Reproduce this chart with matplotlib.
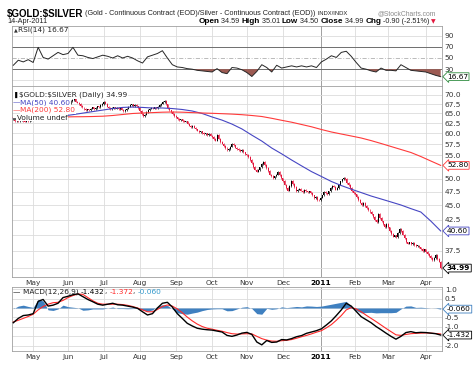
import numpy as np
import pandas as pd
import matplotlib
matplotlib.use('Agg')
import matplotlib.pyplot as plt
import matplotlib.transforms as mtransforms
from matplotlib.ticker import FixedLocator, NullLocator, FixedFormatter

# ---------------- data ----------------
close_apr10 = [63.4, 63.1, 63.3, 63.0, 63.2, 63.5, 63.1, 62.9, 63.2, 63.0, 63.3, 63.6]
close_may10 = [63.4, 66.0, 66.4, 65.8, 65.3, 64.8, 64.2, 64.0, 64.4, 64.9, 65.2, 65.6, 66.5,
               67.4, 67.7, 67.0, 67.4, 66.6, 66.1, 66.2, 66.6]
close_jun10 = [67.0, 67.8, 68.3, 68.6, 68.9, 68.2, 67.9, 67.5, 67.0, 66.6, 66.2, 65.9, 66.1,
               65.8, 66.3, 66.6, 66.2, 66.5, 66.9, 66.7, 67.2, 67.5]
close_jul10 = [68.2, 67.6, 66.8, 66.4, 66.1, 66.5, 66.6, 66.3, 66.5, 66.2, 66.4, 66.0, 65.7,
               65.9, 66.3, 66.8, 67.2, 67.4, 67.0, 67.3, 66.9, 66.5]
close_aug10 = [65.6, 64.9, 64.4, 64.7, 65.4, 65.9, 66.3, 66.5, 66.3, 66.6, 66.4, 66.8, 67.2,
               67.6, 68.0, 68.3, 67.4, 66.5, 65.8, 65.4, 64.9, 64.4]
close_sep10 = [64.0, 63.6, 63.3, 63.5, 63.1, 62.9, 63.0, 62.4, 61.9, 61.6, 61.8, 61.4, 61.0,
               60.7, 60.3, 60.5, 60.1, 59.8, 60.0, 59.6, 59.9, 59.5]
close_oct10 = [59.2, 58.7, 58.3, 59.6, 58.8, 58.0, 57.6, 57.1, 56.6, 56.1, 56.4, 56.9, 57.6,
               57.2, 56.7, 56.4, 56.2, 55.9, 56.1, 55.6, 55.2]
close_nov10 = [55.0, 54.6, 53.9, 53.3, 52.5, 51.9, 51.5, 51.8, 52.4, 53.1, 53.6, 52.9, 52.3,
               51.6, 50.9, 50.6, 50.2, 50.5, 50.9, 51.4, 50.8, 50.1]
close_dec10 = [49.6, 48.9, 48.2, 47.7, 48.6, 49.6, 49.0, 48.4, 47.6, 47.9, 48.1, 47.7, 47.5,
               47.8, 47.6, 47.4, 47.6, 47.3, 46.8, 46.3, 46.5, 46.0, 45.9]
close_jan11 = [46.4, 46.8, 47.5, 47.2, 47.0, 47.6, 48.2, 48.7, 48.5, 47.9, 48.2, 48.9, 49.5,
               49.9, 50.2, 50.0, 49.2, 48.8, 48.2, 47.6, 47.3]
close_feb11 = [47.0, 46.5, 46.0, 45.5, 45.0, 45.4, 44.9, 44.5, 44.2, 43.8, 43.4, 42.9, 42.4,
               42.0, 43.5, 42.8, 42.2, 41.7, 41.2, 41.8]
close_mar11 = [41.2, 40.6, 40.1, 39.7, 39.9, 39.6, 40.3, 41.0, 40.6, 40.0, 39.4, 38.8, 38.6,
               38.8, 38.5, 38.7, 38.4, 38.2, 38.3, 38.0, 37.8, 37.5, 37.7]
close_apr11 = [37.3, 37.0, 36.7, 36.4, 36.1, 36.4, 36.9, 36.3, 35.89, 34.99]

# moving averages (evenly spaced samples across the year)
ma50 = [63.8, 63.8, 63.8, 64.0, 64.1, 64.35, 64.7, 65.1, 65.5, 65.9, 66.3, 66.6, 66.7, 66.6,
        66.45, 66.45, 66.3, 66.05, 65.65, 65.0, 64.1, 63.3, 62.3, 61.1, 59.6, 58.2, 56.6,
        55.3, 53.95, 52.7, 51.5, 50.5, 49.5, 48.7, 48.0, 47.35, 46.7, 46.15, 45.6, 45.05,
        44.4, 43.8, 42.25, 40.6]
ma200 = [63.97, 63.97, 64.02, 64.04, 64.09, 64.09, 64.15, 64.17, 64.22, 64.3, 64.48, 64.74,
         65.0, 65.13, 65.23, 65.34, 65.39, 65.34, 65.23, 65.13, 65.05, 64.95, 64.84, 64.69,
         64.48, 64.22, 63.76, 63.25, 62.77, 62.2, 61.63, 60.96, 60.36, 59.87, 59.4, 58.92,
         58.31, 57.64, 56.95, 56.27, 55.6, 54.71, 53.74, 52.8]

rsi = [37, 46, 43, 47, 42, 69, 51, 48, 54, 60,
       56, 58, 69, 55, 54, 51, 49, 52, 55, 53,
       50, 54, 50, 53, 50, 45, 41, 52, 55, 58,
       63, 50, 38, 34, 33, 31, 30, 28, 27, 26,
       25, 31, 24, 22, 33, 32, 29, 24, 17, 26,
       38, 33, 25, 37, 32, 34, 36, 34, 36, 34,
       36, 33, 43, 48, 54, 51, 60, 62, 53, 42,
       32, 30, 27, 25, 32, 28, 28, 27, 38, 33,
       28, 27, 26, 25, 22, 19, 16.67]

macd = [-0.78, -0.55, -0.40, -0.37, -0.30, 0.35, 0.45, 0.10, 0.15, 0.25,
        0.55, 0.62, 0.70, 0.75, 0.60, 0.45, 0.33, 0.20, 0.15, 0.20,
        0.25, 0.17, 0.15, 0.10, 0.05, -0.02, -0.20, -0.37, -0.30, 0.00,
        0.25, 0.30, 0.05, -0.30, -0.55, -0.81, -0.95, -1.07, -1.12, -1.15,
        -1.17, -1.22, -1.27, -1.45, -1.50, -1.43, -1.33, -1.29, -1.40, -1.80,
        -1.95, -1.72, -1.82, -1.80, -1.67, -1.69, -1.62, -1.52, -1.46, -1.34,
        -1.27, -1.20, -1.10, -0.90, -0.68, -0.40, -0.10, 0.25, 0.10, -0.18,
        -0.46, -0.62, -0.78, -0.98, -1.15, -1.33, -1.50, -1.65, -1.50, -1.30,
        -1.25, -1.31, -1.29, -1.30, -1.33, -1.36, -1.432]
signal = [-0.74, -0.65, -0.55, -0.45, -0.33, -0.10, 0.08, 0.20, 0.28, 0.30,
          0.40, 0.55, 0.66, 0.74, 0.72, 0.55, 0.38, 0.25, 0.20, 0.20,
          0.20, 0.20, 0.18, 0.14, 0.08, 0.00, -0.10, -0.20, -0.20, -0.08,
          0.08, 0.16, 0.10, -0.05, -0.25, -0.48, -0.68, -0.85, -0.98, -1.07,
          -1.12, -1.18, -1.23, -1.30, -1.36, -1.38, -1.37, -1.36, -1.37, -1.50,
          -1.62, -1.70, -1.75, -1.76, -1.73, -1.71, -1.67, -1.60, -1.52, -1.45,
          -1.37, -1.28, -1.20, -1.05, -0.88, -0.65, -0.40, -0.10, 0.02, -0.05,
          -0.20, -0.38, -0.55, -0.72, -0.90, -1.08, -1.25, -1.42, -1.45, -1.40,
          -1.36, -1.34, -1.33, -1.32, -1.33, -1.35, -1.372]

month_labels = ['May', 'Jun', 'Jul', 'Aug', 'Sep', 'Oct', 'Nov', 'Dec', '2011', 'Feb', 'Mar', 'Apr']
price_ticks = [35.0, 37.5, 40.0, 42.5, 45.0, 47.5, 50.0, 52.5, 55.0, 57.5, 60.0, 62.5, 65.0, 67.5, 70.0]
price_hidden = [35.0, 40.0, 52.5]          # covered by the value boxes
rsi_ticks = [10, 30, 50, 70, 90]
rsi_hidden = [10]
macd_ticks = [-2.0, -1.5, -1.0, -0.5, 0.0, 0.5, 1.0]
macd_hidden = [-1.5, 0.0]

# ---------------- derived ----------------
closes = np.array(close_apr10 + close_may10 + close_jun10 + close_jul10 + close_aug10 +
                  close_sep10 + close_oct10 + close_nov10 + close_dec10 + close_jan11 +
                  close_feb11 + close_mar11 + close_apr11)
N = len(closes)
dates = pd.bdate_range(end='2011-04-14', periods=N)
days = np.arange(N)
month_pos = [i for i in range(1, N) if dates[i].month != dates[i - 1].month]

rsi = np.array(rsi, dtype=float)
macd = np.array(macd)
signal = np.array(signal)
hist = macd - signal

W, H = 474, 370
fig = plt.figure(figsize=(W / 100, H / 100), dpi=100)
fig.patch.set_facecolor('white')
plt.rcParams['font.family'] = ['DejaVu Sans']

L, R = 12, 442


def rect(top, bot):
    return [L / W, 1 - bot / H, (R - L) / W, (bot - top) / H]


ax_r = fig.add_axes(rect(25.5, 86))
ax_p = fig.add_axes(rect(86, 277))
ax_m = fig.add_axes(rect(287, 351))

grid_c = '#dcdcdc'
for ax in (ax_r, ax_p, ax_m):
    ax.set_xlim(-0.8, N - 0.2)
    for s in ax.spines.values():
        s.set_color('#a0a0a0')
        s.set_linewidth(0.6)
    for mp in month_pos:
        ax.axvline(mp, color='#909090' if dates[mp].month == 1 else grid_c, lw=0.6, zorder=0)
    ax.yaxis.tick_right()
    ax.tick_params(axis='both', length=0, labelsize=5.3, colors='#333333', pad=2)


def tick_texts(ticks, hidden, fmt):
    return ['' if t in hidden else fmt.format(t) for t in ticks]


# ---------------- RSI ----------------
rx = np.linspace(0, N - 1, len(rsi))
ax_r.set_ylim(0, 108)
for v in (90, 10):
    ax_r.axhline(v, color=grid_c, lw=0.6, zorder=0)
for v in (70, 30):
    ax_r.axhline(v, color='#6e6e6e', lw=0.7, zorder=1)
ax_r.axhline(50, color='#b0b0b0', lw=0.6, ls=(0, (5, 2, 1, 2)), zorder=1)
ax_r.fill_between(rx, rsi, 30, where=rsi < 30, interpolate=True, color='#9c5a52', lw=0, zorder=2)
ax_r.plot(rx, rsi, color='#262626', lw=0.7, zorder=3)
ax_r.set_yticks(rsi_ticks)
ax_r.set_yticklabels(tick_texts(rsi_ticks, rsi_hidden, '{:d}'))
ax_r.set_xticks([])

# ---------------- price ----------------
ax_p.set_yscale('log')
ax_p.set_ylim(33.76, 72.57)
ax_p.yaxis.set_major_locator(FixedLocator(price_ticks))
ax_p.yaxis.set_major_formatter(FixedFormatter(tick_texts(price_ticks, price_hidden, '{:.1f}')))
ax_p.yaxis.set_minor_locator(NullLocator())
for t in price_ticks:
    ax_p.axhline(t, color=grid_c, lw=0.6, zorder=0)

opens = np.r_[closes[0], closes[:-1]]
up = closes >= opens
cols = np.where(up, '#000000', '#e3173d')
hi = np.maximum(opens, closes) * 1.003
lo = np.minimum(opens, closes) * 0.997
ax_p.vlines(days, lo, hi, colors=cols, lw=0.5, zorder=3)
ax_p.bar(days, np.maximum(np.abs(closes - opens), 0.12), bottom=np.minimum(opens, closes),
         width=0.6, color=cols, lw=0, zorder=3)

mx = np.linspace(0, N - 1, len(ma50))
ax_p.plot(mx, ma50, color='#4646c3', lw=0.8, zorder=4)
ax_p.plot(mx, ma200, color='#ff3a3a', lw=0.8, zorder=4)

ax_p.set_xticks(month_pos)
ax_p.set_xticklabels(month_labels)

# ---------------- MACD ----------------
mmx = np.linspace(0, N - 1, len(macd))
ax_m.set_ylim(-2.275, 1.11)
for t in macd_ticks:
    ax_m.axhline(t, color=grid_c, lw=0.6, zorder=0)
ax_m.fill_between(mmx, hist, 0, color='#3f80c0', lw=0, zorder=2)
ax_m.plot(mmx, signal, color='#ff2a2a', lw=0.8, zorder=3)
ax_m.plot(mmx, macd, color='#000000', lw=1.0, zorder=4)
ax_m.set_yticks(macd_ticks)
ax_m.set_yticklabels(tick_texts(macd_ticks, macd_hidden, '{:.1f}'))
ax_m.set_xticks(month_pos)
ax_m.set_xticklabels(month_labels)

for ax in (ax_p, ax_m):
    for lab in ax.get_xticklabels():
        if lab.get_text() == '2011':
            lab.set_fontweight('bold')
            lab.set_color('#000000')


# ---------------- value boxes on the right ----------------
def value_box(ax, y, s, ec, bold=False):
    tr = mtransforms.blended_transform_factory(ax.transAxes, ax.transData)
    ax.text(1.0 + 5 / 430, y, s, transform=tr, ha='left', va='center', fontsize=5.3,
            fontweight='bold' if bold else 'normal', color='#000000',
            bbox=dict(boxstyle='larrow,pad=0.12', fc='white', ec=ec, lw=0.6),
            zorder=6, clip_on=False)


value_box(ax_p, 52.80, '52.80', '#ff3a3a')
value_box(ax_p, 40.60, '40.60', '#4646c3')
value_box(ax_p, 34.99, '34.99', '#000000', bold=True)
value_box(ax_r, 16.67, '16.67', '#2e8b3e')
value_box(ax_m, -0.060, '-0.060', '#3f80c0')
value_box(ax_m, -1.432, '-1.432', '#000000')

# ---------------- texts ----------------
renderer = fig.canvas.get_renderer()


def run_text(x_px, y_px, pieces, ha='left', zorder=7, box=False):
    widths = []
    for s, kw in pieces:
        t = fig.text(0, 0, s, parse_math=False, **kw)
        widths.append(t.get_window_extent(renderer=renderer).width)
        t.remove()
    total = sum(widths)
    x = x_px if ha == 'left' else x_px - total
    for (s, kw), w in zip(pieces, widths):
        extra = {}
        if box:
            extra['bbox'] = dict(boxstyle='square,pad=0.05', fc='white', ec='none')
        fig.text(x / W, 1 - y_px / H, s, ha='left', va='center', parse_math=False,
                 zorder=zorder, **kw, **extra)
        x += w


arial = 'Liberation Sans'
run_text(7, 13.5, [('$GOLD:$SILVER', dict(fontsize=7.0, fontweight='bold', family=arial)),
                   (' (Gold - Continuous Contract (EOD)/Silver - Continuous Contract (EOD))',
                    dict(fontsize=5.2, family=arial, color='#222222')),
                   (' INDX/INDX', dict(fontsize=4.2, family=arial, color='#222222'))])
run_text(436, 13.5, [('@StockCharts.com', dict(fontsize=4.9, family=arial, color='#8a8a8a'))], ha='right')
run_text(7, 21.5, [('14-Apr-2011', dict(fontsize=5.2, family=arial, color='#222222'))])
b = dict(fontsize=5.9, fontweight='bold', family=arial)
n = dict(fontsize=5.2, family=arial, color='#222222')
run_text(436, 21.5, [('Open', b), (' 34.59 ', n), ('High', b), (' 35.01 ', n), ('Low', b),
                     (' 34.50 ', n), ('Close', b), (' 34.99 ', n), ('Chg', b),
                     (' -0.90 (-2.51%) ', n), ('\u25BC', dict(fontsize=4.3, color='#e3173d'))],
         ha='right')

lg = dict(fontsize=5.3, color='#222222')
run_text(14, 30, [('\u25B2', dict(fontsize=3.5, color='#333333')), ('RSI(14) 16.67', lg)])

run_text(13, 95, [('\u2590 ', dict(fontsize=4, color='#000000')),
                  ('$GOLD:$SILVER (Daily) 34.99', lg)], box=True)
run_text(13, 102.5, [('\u2014', dict(fontsize=5.3, color='#4646c3')),
                     ('MA(50) 40.60', dict(fontsize=5.3, color='#4646c3'))], box=True)
run_text(13, 110, [('\u2014', dict(fontsize=5.3, color='#ff3a3a')),
                   ('MA(200) 52.80', dict(fontsize=5.3, color='#ff3a3a'))], box=True)
run_text(13, 117.5, [('\u2583', dict(fontsize=3.5, color='#555555')), ('Volume undef', lg)], box=True)

run_text(13, 291.5, [('\u2014 ', dict(fontsize=5.3, color='#000000')), ('MACD(12,26,9) ', lg),
                     ('-1.432', dict(fontsize=5.3, color='#000000')), (', ', lg),
                     ('-1.372', dict(fontsize=5.3, color='#ff2a2a')), (', ', lg),
                     ('-0.060', dict(fontsize=5.3, color='#3399cc'))])

fig.savefig('out.png', dpi=100, facecolor='white')
